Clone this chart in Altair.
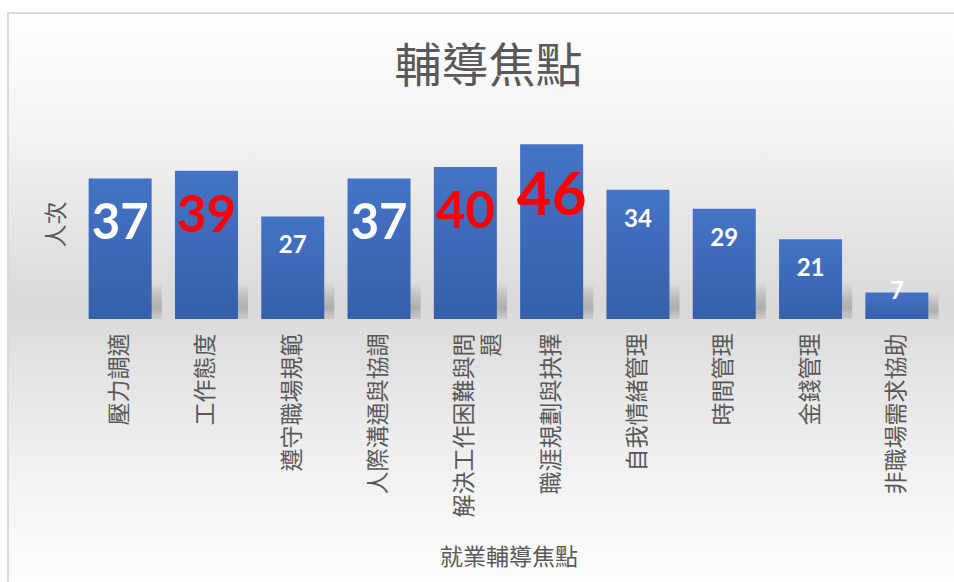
import altair as alt
import pandas as pd

# ---- data ----
categories = ["壓力調適", "工作態度", "遵守職場規範", "人際溝通與協調", "解決工作困難與問題",
              "職涯規劃與抉擇", "自我情緒管理", "時間管理", "金錢管理", "非職場需求協助"]
counts = [37, 39, 27, 37, 40, 46, 34, 29, 21, 7]

# ---- label emphasis (styling, kept apart from the data) ----
label_emphasis = {
    "壓力調適": "big", "工作態度": "red", "遵守職場規範": "small", "人際溝通與協調": "big",
    "解決工作困難與問題": "red", "職涯規劃與抉擇": "redxl", "自我情緒管理": "small",
    "時間管理": "small", "金錢管理": "small", "非職場需求協助": "tiny",
}
STYLES = {
    "big": dict(size=49, color="#FFFFFF", dy=46),
    "red": dict(size=51, color="#FF0000", dy=46),
    "redxl": dict(size=60, color="#FF0000", dy=53),
    "small": dict(size=24, color="#FFFFFF", dy=30),
    "tiny": dict(size=24, color="#FFFFFF", dy=0),
}

df = pd.DataFrame({"cat": categories, "v": counts})
df["style"] = df["cat"].map(label_emphasis)

CJK = "Noto Sans CJK TC"
GREY = "#595959"

x_enc = alt.X(
    "cat:N", sort=categories,
    scale=alt.Scale(paddingInner=0.27, paddingOuter=0.135),
    axis=alt.Axis(
        title="就業輔導焦點", titleFont=CJK, titleFontSize=23, titleColor=GREY,
        titleFontWeight="normal", titleY=238, titleBaseline="middle",
        labelAngle=-90, labelFont=CJK, labelFontSize=23, labelColor=GREY,
        labelPadding=14, labelLimit=0, labelLineHeight=27,
        labelExpr="datum.label == '解決工作困難與問題' ? ['解決工作困難與問', '題'] : datum.label",
        domain=False, ticks=False, grid=False, zindex=2,
    ),
)
y_axis = alt.Axis(
    title="人次", titleFont=CJK, titleFontSize=23, titleColor=GREY,
    titleFontWeight="normal", titleAngle=-90, titleX=-21, titleY=95,
    titleBaseline="middle", titleAlign="center",
    labels=False, ticks=False, domain=False, grid=False, zindex=2,
)
y_scale = alt.Scale(domain=[0, 50])

bar_grad = alt.LinearGradient(
    gradient="linear", x1=0, x2=0, y1=0, y2=1,
    stops=[alt.GradientStop(color="#4574C6", offset=0),
           alt.GradientStop(color="#3560AA", offset=1)],
)
shadow_grad = alt.LinearGradient(
    gradient="linear", x1=0, x2=0, y1=0, y2=1,
    stops=[alt.GradientStop(color="rgba(160,160,160,0)", offset=0),
           alt.GradientStop(color="rgba(160,160,160,0.5)", offset=0.4),
           alt.GradientStop(color="rgba(160,160,160,0.75)", offset=0.7),
           alt.GradientStop(color="rgba(190,190,190,0.55)", offset=1)],
)
bg_grad = alt.LinearGradient(
    gradient="linear", x1=0, x2=0, y1=0, y2=1,
    stops=[alt.GradientStop(color="#FFFFFF", offset=0),
           alt.GradientStop(color="#F3F3F3", offset=0.2),
           alt.GradientStop(color="#D9D9D9", offset=0.5),
           alt.GradientStop(color="#E2E2E2", offset=0.6),
           alt.GradientStop(color="#EFEFEF", offset=0.75),
           alt.GradientStop(color="#F9F9F9", offset=0.9),
           alt.GradientStop(color="#FFFFFF", offset=1)],
)

background = alt.Chart(alt.Data(values=[{}])).mark_rect(
    fill=bg_grad, stroke="#D9D9D9", strokeWidth=2
).encode(
    x=alt.value(-69), x2=alt.value(900), y=alt.value(-116), y2=alt.value(470)
)

base = alt.Chart(df)

shadow = base.transform_calculate(sv="min(datum.v, 9.5)").mark_bar(
    fill=shadow_grad, width=alt.RelativeBandSize(1.1), xOffset=7
).encode(
    x=x_enc,
    y=alt.Y("sv:Q", scale=y_scale, axis=y_axis),
)

bars = base.mark_bar(fill=bar_grad).encode(
    x=x_enc,
    y=alt.Y("v:Q", scale=y_scale, axis=y_axis),
)

texts = []
for name, st in STYLES.items():
    texts.append(
        base.transform_filter(alt.datum.style == name).mark_text(
            font="Lato", fontWeight="bold", fontSize=st["size"], color=st["color"],
            dy=st["dy"], baseline="middle", align="center",
        ).encode(
            x=x_enc,
            y=alt.Y("v:Q", scale=y_scale, axis=y_axis),
            text=alt.Text("v:Q"),
        )
    )

chart = alt.layer(background, shadow, bars, *texts).properties(
    width=863, height=190,
    autosize=alt.AutoSizeParams(type="none"),
    padding={"left": 77, "top": 129, "right": 14, "bottom": 263},
    title=alt.TitleParams(
        "輔導焦點", font=CJK, fontSize=47, color=GREY, fontWeight="normal",
        anchor="middle", dx=-20, offset=0, dy=127, baseline="bottom", zindex=2,
    ),
).configure_view(stroke=None)

chart.save("out.html", embed_options={"renderer": "svg", "actions": False})
